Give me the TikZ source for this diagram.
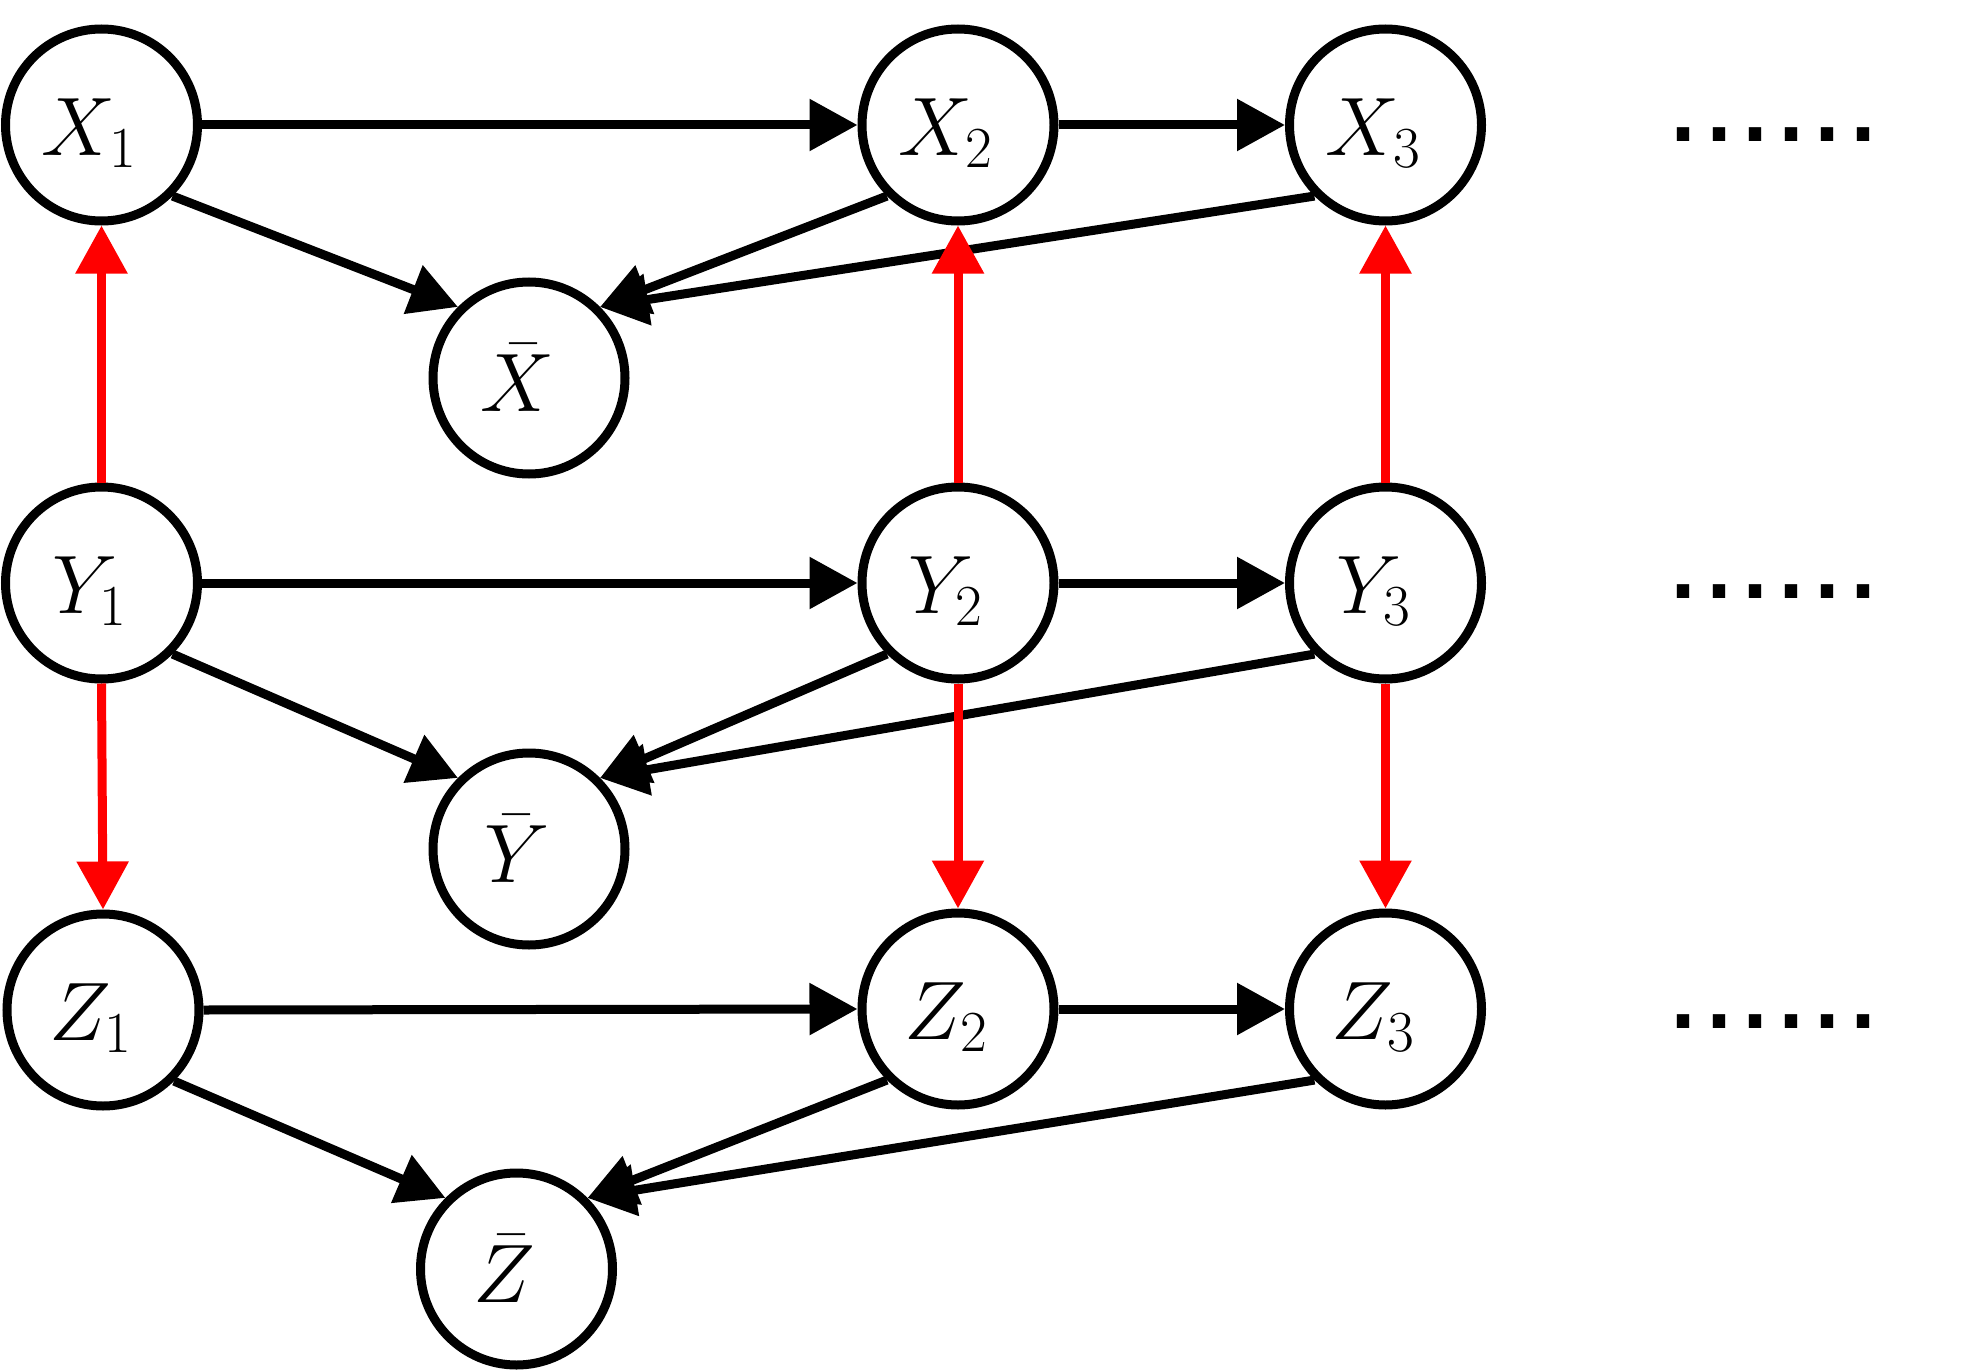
\RequirePackage{fix-cm}
\documentclass[tikz,border=0pt]{standalone}
\usepackage{fontspec}
\newfontfamily\dotfont{Liberation Sans}
\usetikzlibrary{arrows.meta}
\newcommand{\lowlab}[1]{\rule{0pt}{36.5pt}$#1$\hspace*{12pt}}
\begin{document}
\begin{tikzpicture}[x=0.5pt,y=-0.5pt,
  var/.style={circle, draw=black, line width=4.5pt, minimum size=96pt, inner sep=0pt, fill=white, font=\fontsize{41.5}{50}\selectfont},
  blk/.style={draw=black, line width=4.5pt, -{Triangle[length=24pt,width=25pt]}},
  redarr/.style={blk, draw=red},
  dotrow/.style={anchor=base, inner sep=0pt, font=\dotfont\fontsize{64.75}{70}\selectfont}]
\useasboundingbox (0,0) rectangle (1966,1370);
% nodes
\node[var] (X1) at (101.5,125) {\lowlab{X_1}};
\node[var] (X2) at (958,125) {\lowlab{X_2}};
\node[var] (X3) at (1385.5,125) {\lowlab{X_3}};
\node[var] (Xb) at (529,378) {$\bar{X}$\hspace*{12pt}};
\node[var] (Y1) at (101.5,583) {\lowlab{Y_1}};
\node[var] (Y2) at (958,583) {\lowlab{Y_2}};
\node[var] (Y3) at (1385.5,583) {\lowlab{Y_3}};
\node[var] (Yb) at (529,849) {$\bar{Y}$\hspace*{12pt}};
\node[var] (Z1) at (103,1010) {\lowlab{Z_1}};
\node[var] (Z2) at (958,1009) {\lowlab{Z_2}};
\node[var] (Z3) at (1385.5,1009) {\lowlab{Z_3}};
\node[var] (Zb) at (516.5,1269) {$\bar{Z}$\hspace*{12pt}};
\node[dotrow] (D1) at (1773,141) {......};
\node[dotrow] (D2) at (1773,598) {......};
\node[dotrow] (D3) at (1773,1028) {......};
% X row
\draw[blk] (X1.east) -- (X2.west);
\draw[blk] (X2.east) -- (X3.west);
\draw[blk] (X1.south east) -- (Xb.north west);
\draw[blk] (X2.south west) -- (Xb.north east);
\draw[blk] (X3.south west) -- (Xb.north east);
% Y row
\draw[blk] (Y1.east) -- (Y2.west);
\draw[blk] (Y2.east) -- (Y3.west);
\draw[blk] (Y1.south east) -- (Yb.north west);
\draw[blk] (Y2.south west) -- (Yb.north east);
\draw[blk] (Y3.south west) -- (Yb.north east);
% Z row
\draw[blk] (Z1.east) -- (Z2.west);
\draw[blk] (Z2.east) -- (Z3.west);
\draw[blk] (Z1.south east) -- (Zb.north west);
\draw[blk] (Z2.south west) -- (Zb.north east);
\draw[blk] (Z3.south west) -- (Zb.north east);
% red
\draw[redarr] (Y1.north) -- (X1.south);
\draw[redarr] (Y2.north) -- (X2.south);
\draw[redarr] (Y3.north) -- (X3.south);
\draw[redarr] (Y1.south) -- (Z1.north);
\draw[redarr] (Y2.south) -- (Z2.north);
\draw[redarr] (Y3.south) -- (Z3.north);
\end{tikzpicture}
\end{document}
